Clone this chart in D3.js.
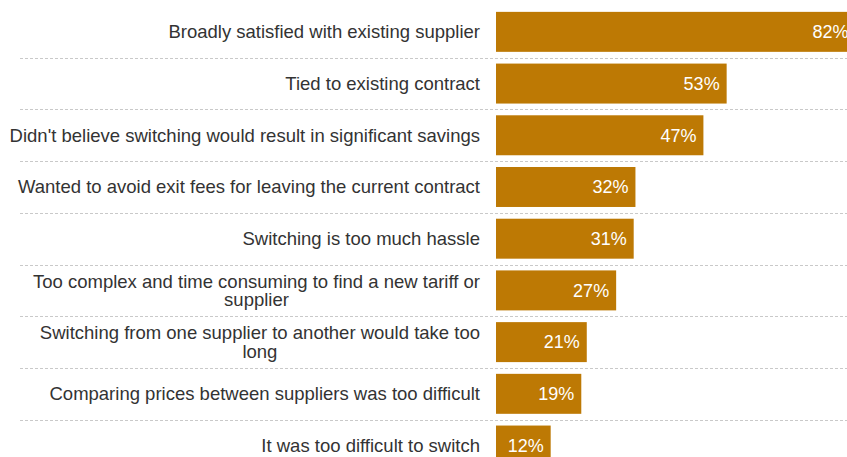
<!DOCTYPE html>
<html>
<head>
<meta charset="utf-8">
<script src="https://cdn.jsdelivr.net/npm/d3@7"></script>
<style>
  body { margin: 0; background: #fff; }
  svg { display: block; font-family: "Liberation Sans", Arial, sans-serif; }
</style>
</head>
<body>
<div id="chart"></div>
<script>
// reasons for not switching supplier
var reasons = [
    "Broadly satisfied with existing supplier",
    "Tied to existing contract",
    "Didn't believe switching would result in significant savings",
    "Wanted to avoid exit fees for leaving the current contract",
    "Switching is too much hassle",
    "Too complex and time consuming to find a new tariff or supplier",
    "Switching from one supplier to another would take too long",
    "Comparing prices between suppliers was too difficult",
    "It was too difficult to switch"
];
var shares = [82, 52.6, 47.3, 31.8, 31.4, 27.4, 20.7, 19.45, 12.47];

var svgWidth = 847;
var svgHeight = 457;
var margin = {top: 6, left: 496};

var svg = d3.select("#chart")
    .append("svg")
    .attr("width", svgWidth)
    .attr("height", svgHeight);

var data = reasons.map(function(r, i) { return {reason: r, value: shares[i]}; });

// scales
var xScale = d3.scaleLinear()
    .domain([0, 82])
    .range([0, 82 * 4.385]);
var yScale = d3.scaleBand()
    .domain(reasons)
    .range([margin.top, margin.top + 9 * 51.71])
    .paddingInner(0.227)
    .paddingOuter(0.1135);

// dashed separators between rows
var step = yScale.step();
svg.append("g").selectAll("line")
    .data(reasons.slice(1))
    .enter()
    .append("line")
    .attr("x1", 20)
    .attr("x2", svgWidth)
    .attr("y1", d => Math.round(yScale(d) - step * 0.1135) + 0.5)
    .attr("y2", d => Math.round(yScale(d) - step * 0.1135) + 0.5)
    .attr("stroke", "#c9c9c9")
    .attr("stroke-width", 1)
    .attr("stroke-dasharray", "3,2");

var chartGroup = svg.append("g")
    .attr("transform", `translate(${margin.left}, 0)`);

chartGroup.selectAll("rect")
    .data(data)
    .enter()
    .append("rect")
    .attr("x", 0)
    .attr("y", d => yScale(d.reason))
    .attr("width", d => xScale(d.value))
    .attr("height", yScale.bandwidth())
    .attr("fill", "#bd7904");

// value labels inside bar ends
chartGroup.selectAll("text.val")
    .data(data)
    .enter()
    .append("text")
    .attr("class", "val")
    .attr("x", d => xScale(d.value) - 7)
    .attr("y", d => yScale(d.reason) + yScale.bandwidth() / 2)
    .attr("dy", "0.35em")
    .attr("text-anchor", "end")
    .style("fill", "#ffffff")
    .style("font-size", "18px")
    .text(d => Math.round(d.value) + "%");

// category labels, wrapped and centred as a block
var labelRight = 480;
var maxWidth = 474;
var lineHeight = 18.5;
var fontSize = "18.5px";
svg.selectAll("g.lab")
    .data(data)
    .enter()
    .append("g")
    .attr("class", "lab")
    .each(function(d) {
        var g = d3.select(this);
        var words = d.reason.split(" ");
        var lines = [];
        var line = [];
        var probe = g.append("text").style("font-size", fontSize);
        words.forEach(function(w) {
            line.push(w);
            probe.text(line.join(" "));
            if (probe.node().getComputedTextLength() > maxWidth && line.length > 1) {
                line.pop();
                lines.push(line.join(" "));
                line = [w];
            }
        });
        lines.push(line.join(" "));
        var widths = lines.map(function(l) {
            probe.text(l);
            return probe.node().getComputedTextLength();
        });
        probe.remove();
        var blockW = d3.max(widths);
        var cx = labelRight - blockW / 2;
        var cy = yScale(d.reason) + yScale.bandwidth() / 2;
        var y0 = cy - (lines.length - 1) * lineHeight / 2;
        lines.forEach(function(l, i) {
            g.append("text")
                .attr("x", cx)
                .attr("y", y0 + i * lineHeight)
                .attr("dy", "0.35em")
                .attr("text-anchor", "middle")
                .style("font-size", fontSize)
                .style("fill", "#333333")
                .text(l);
        });
    });
</script>
</body>
</html>
